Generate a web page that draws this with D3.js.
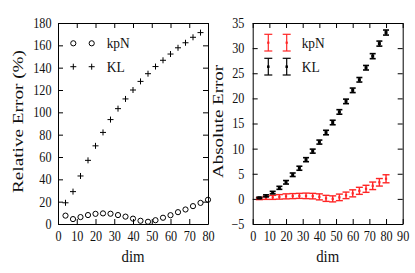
<!DOCTYPE html>
<html>
<head>
<meta charset="utf-8">
<script src="https://cdn.jsdelivr.net/npm/d3@7"></script>
<style>
  html, body { margin: 0; padding: 0; background: #fff; }
  svg { display: block; }
</style>
</head>
<body>
<script>
// ---- data ----
const dims = [4, 8, 12, 16, 20, 24, 28, 32, 36, 40, 44, 48, 52, 56, 60, 64, 68, 72, 76, 80];
const dimsKLRel = [4, 8, 12, 16, 20, 24, 28, 32, 36, 40, 44, 48, 52, 56, 60, 64, 68, 72, 76];
const relKpN = [7.5, 4.4, 6.2, 8.0, 9.1, 9.5, 9.2, 8.0, 6.6, 4.8, 2.9, 2.0, 3.4, 5.6, 7.9, 10.6, 13.0, 16.0, 18.9, 21.7];
const relKL = [19, 29, 43, 57, 70, 82, 93.5, 103.3, 112, 120, 127.7, 134.6, 141, 146.6, 152.2, 157.8, 162.3, 167.2, 171.4];
const absKL = [0.2, 0.6, 1.25, 2.2, 3.3, 4.8, 6.1, 7.8, 9.5, 11.3, 13.2, 15.2, 17.3, 19.4, 21.6, 23.7, 26.1, 28.4, 30.9, 33.1];
const absKLErr = [0.15, 0.2, 0.25, 0.3, 0.35, 0.35, 0.4, 0.4, 0.4, 0.4, 0.45, 0.45, 0.45, 0.45, 0.45, 0.45, 0.45, 0.5, 0.5, 0.5];
const absKpN = [0.05, 0.2, 0.3, 0.4, 0.5, 0.55, 0.6, 0.6, 0.55, 0.4, 0.1, 0.0, 0.3, 0.7, 1.1, 1.6, 2.0, 2.6, 3.3, 4.0];
const absKpNErr = [0.2, 0.3, 0.4, 0.45, 0.5, 0.5, 0.5, 0.55, 0.55, 0.6, 0.6, 0.6, 0.65, 0.65, 0.7, 0.7, 0.7, 0.75, 0.75, 0.8];
const xTicksL = [0, 10, 20, 30, 40, 50, 60, 70, 80];
const yTicksL = [0, 20, 40, 60, 80, 100, 120, 140, 160, 180];
const xTicksR = [0, 10, 20, 30, 40, 50, 60, 70, 80, 90];
const yTicksR = [-5, 0, 5, 10, 15, 20, 25, 30, 35];
const seriesNames = ["kpN", "KL"];
const xTitle = "dim";
const yTitleL = "Relative Error (%)";
const yTitleR = "Absolute Error";

// ---- setup ----
const W = 415, H = 273;
const FONT = "'Liberation Serif', 'Times New Roman', serif";
const svg = d3.select("body").append("svg").attr("width", W).attr("height", H)
  .style("background", "#fff");

const xL = d3.scaleLinear().domain([0, 80]).range([58, 208]);
const yL = d3.scaleLinear().domain([0, 180]).range([224, 23]);
const xR = d3.scaleLinear().domain([0, 90]).range([252.7, 402.7]);
const yR = d3.scaleLinear().domain([-5, 35]).range([224, 23]);

function styleAxis(g) {
  g.attr("font-family", FONT).attr("font-size", 14);
  g.selectAll(".domain").attr("stroke", "#000").attr("stroke-width", 1);
  g.selectAll(".tick line").attr("stroke", "#000").attr("stroke-width", 1);
  g.selectAll(".tick text").attr("fill", "#111").attr("transform", "scale(0.87,1)");
}

function drawAxes(x, y, xt, yt, padY) {
  const y0 = y.range()[0], y1 = y.range()[1];
  const x0 = x.range()[0], x1 = x.range()[1];
  svg.append("g").attr("transform", `translate(0,${y0})`)
    .call(d3.axisBottom(x).tickValues(xt).tickSizeInner(-5).tickSizeOuter(0).tickPadding(7))
    .call(styleAxis);
  svg.append("g").attr("transform", `translate(0,${y1})`)
    .call(d3.axisTop(x).tickValues(xt).tickFormat("").tickSizeInner(-5).tickSizeOuter(0))
    .call(styleAxis);
  svg.append("g").attr("transform", `translate(${x0},0)`)
    .call(d3.axisLeft(y).tickValues(yt).tickSizeInner(-5).tickSizeOuter(0).tickPadding(padY))
    .call(styleAxis);
  svg.append("g").attr("transform", `translate(${x1},0)`)
    .call(d3.axisRight(y).tickValues(yt).tickFormat("").tickSizeInner(-5).tickSizeOuter(0))
    .call(styleAxis);
}

drawAxes(xL, yL, xTicksL, yTicksL, 7.5);
drawAxes(xR, yR, xTicksR, yTicksR, 9.5);

// ---- titles ----
function xLabel(cx, text) {
  svg.append("text").attr("x", cx).attr("y", 262).attr("text-anchor", "middle")
    .attr("font-family", FONT).attr("font-size", 16).attr("fill", "#111")
    .attr("textLength", 23).attr("lengthAdjust", "spacingAndGlyphs").text(text);
}
xLabel((xL.range()[0] + xL.range()[1]) / 2, xTitle);
xLabel((xR.range()[0] + xR.range()[1]) / 2, xTitle);

function yLabel(bx, cy, len, text) {
  svg.append("text")
    .attr("transform", `translate(${bx},${cy}) rotate(-90) scale(1,0.9)`)
    .attr("text-anchor", "middle")
    .attr("font-family", FONT).attr("font-size", 15.5).attr("fill", "#111")
    .attr("textLength", len).attr("lengthAdjust", "spacingAndGlyphs").text(text);
}
yLabel(23, 121.5, 143, yTitleL);
yLabel(223, 121.5, 113, yTitleR);

// ---- left plot marks ----
const gL = svg.append("g");
gL.selectAll("circle.kpn").data(dims.map((d, i) => [d, relKpN[i]])).join("circle")
  .attr("class", "kpn")
  .attr("cx", d => xL(d[0])).attr("cy", d => yL(d[1])).attr("r", 2.6)
  .attr("fill", "none").attr("stroke", "#000").attr("stroke-width", 1);
const plusPath = "M-3,0H3M0,-3V3";
gL.selectAll("path.kl").data(dimsKLRel.map((d, i) => [d, relKL[i]])).join("path")
  .attr("class", "kl")
  .attr("transform", d => `translate(${xL(d[0])},${yL(d[1])})`)
  .attr("d", plusPath).attr("fill", "none").attr("stroke", "#000").attr("stroke-width", 1);

// left legend
[73.3, 91.7].forEach(x => {
  gL.append("circle").attr("cx", x).attr("cy", 43.3).attr("r", 2.6)
    .attr("fill", "none").attr("stroke", "#000").attr("stroke-width", 1);
  gL.append("path").attr("transform", `translate(${x},66.7)`).attr("d", plusPath)
    .attr("fill", "none").attr("stroke", "#000").attr("stroke-width", 1);
});
function legText(g, x, y, text, len) {
  g.append("text").attr("x", x).attr("y", y).attr("font-family", FONT).attr("font-size", 15)
    .attr("fill", "#111").attr("textLength", len).attr("lengthAdjust", "spacingAndGlyphs").text(text);
}
legText(gL, 106.7, 48, seriesNames[0], 23);
legText(gL, 106.7, 72, seriesNames[1], 18);

// ---- right plot marks ----
const gR = svg.append("g");
function errBar(g, cx, cyTop, cy, cyBot, hw, color, sw, sq, op) {
  const e = g.append("g").attr("opacity", op);
  e.append("line").attr("x1", cx).attr("x2", cx).attr("y1", cyTop).attr("y2", cyBot)
    .attr("stroke", color).attr("stroke-width", sw);
  e.append("line").attr("x1", cx - hw).attr("x2", cx + hw).attr("y1", cyTop).attr("y2", cyTop)
    .attr("stroke", color).attr("stroke-width", sw);
  e.append("line").attr("x1", cx - hw).attr("x2", cx + hw).attr("y1", cyBot).attr("y2", cyBot)
    .attr("stroke", color).attr("stroke-width", sw);
  e.append("rect").attr("x", cx - sq / 2).attr("y", cy - sq / 2).attr("width", sq).attr("height", sq)
    .attr("fill", color);
}
dims.forEach((d, i) => {
  errBar(gR, xR(d), yR(absKpN[i] + absKpNErr[i]), yR(absKpN[i]), yR(absKpN[i] - absKpNErr[i]),
    3.5, "#ff0000", 1.4, 2.2, 0.85);
});
dims.forEach((d, i) => {
  errBar(gR, xR(d), yR(absKL[i] + absKLErr[i]), yR(absKL[i]), yR(absKL[i] - absKLErr[i]),
    3, "#000", 1.6, 3, 1);
});

// right legend
[268.3, 286.7].forEach(x => {
  errBar(gR, x, 34.3, 42.7, 51, 4, "#ff0000", 1.2, 2.2, 0.85);
  errBar(gR, x, 58.3, 66.7, 75, 4, "#000", 1.2, 2.5, 1);
});
legText(gR, 301.7, 48, seriesNames[0], 23);
legText(gR, 301.7, 72, seriesNames[1], 18);
</script>
</body>
</html>
